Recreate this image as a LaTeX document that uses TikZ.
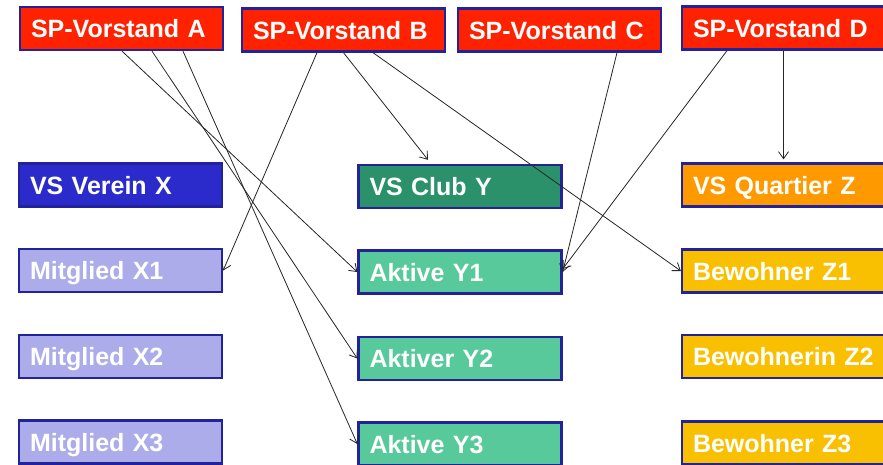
\documentclass[tikz,border=0pt]{standalone}
\usepackage{fontspec}
\setmainfont{Liberation Sans}
\usetikzlibrary{arrows.meta}
\definecolor{vred}{HTML}{FF2200}
\definecolor{vborder}{HTML}{22229A}
\definecolor{xdark}{HTML}{2B2BCC}
\definecolor{xlight}{HTML}{ACACEA}
\definecolor{ydark}{HTML}{2A916A}
\definecolor{ylight}{HTML}{58C99A}
\definecolor{zdark}{HTML}{FF9900}
\definecolor{zlight}{HTML}{F8C000}
\tikzset{
  box/.style={draw=vborder, line width=2.3pt, text=white,
    font=\fontsize{25}{30}\selectfont\bfseries,
    minimum height=43pt, text width=181pt, inner xsep=11pt, inner ysep=0pt,
    text height=18pt, text depth=0pt, align=left},
  rel/.style={draw=black!85, line width=0.8pt, -{Straight Barb[length=7pt,width=10pt]}}
}
\begin{document}
\begin{tikzpicture}[x=1pt,y=-1pt]
\clip (0,0) rectangle (883,464);
\fill[white] (0,0) rectangle (883,464);
% top row
\node[box, fill=vred] (A) at (121.5,28.5) {SP-Vorstand A};
\node[box, fill=vred] (B) at (343.5,30) {SP-Vorstand B};
\node[box, fill=vred] (C) at (559.5,30) {SP-Vorstand C};
\node[box, fill=vred] (D) at (783.5,28) {SP-Vorstand D};
% column X
\node[box, fill=xdark]  (VX) at (120.5,185) {VS Verein X};
\node[box, fill=xlight] (X1) at (120.5,270.5) {Mitglied X1};
\node[box, fill=xlight] (X2) at (120.5,356.5) {Mitglied X2};
\node[box, fill=xlight] (X3) at (120.5,442) {Mitglied X3};
% column Y
\node[box, fill=ydark]  (VY) at (460,186.5) {VS Club Y};
\node[box, fill=ylight] (Y1) at (460,272) {Aktive Y1};
\node[box, fill=ylight] (Y2) at (460,358.5) {Aktiver Y2};
\node[box, fill=ylight] (Y3) at (460,444) {Aktive Y3};
% column Z
\node[box, fill=zdark]  (VZ) at (783.5,185) {VS Quartier Z};
\node[box, fill=zlight] (Z1) at (783.5,271) {Bewohner Z1};
\node[box, fill=zlight] (Z2) at (783.5,356.5) {Bewohnerin Z2};
\node[box, fill=zlight] (Z3) at (783.5,443) {Bewohner Z3};
% connectors
\draw[rel] ([xshift=0.5pt]A.south) -- (Y1.west);
\draw[rel] ([xshift=30.5pt]A.south) -- (Y2.west);
\draw[rel] ([xshift=61.5pt]A.south) -- (Y3.west);
\draw[rel] ([xshift=-26.5pt]B.south) -- (X1.east);
\draw[rel] (B.south) -- ([xshift=-32pt,yshift=4pt]VY.north);
\draw[rel] ([xshift=29.5pt]B.south) -- (Z1.west);
\draw[rel] ([xshift=57.5pt]C.south) -- (Y1.east);
\draw[rel] ([xshift=-56.5pt]D.south) -- ([yshift=3pt]Y1.east);
\draw[rel] (D.south) -- ([yshift=3pt]VZ.north);
\end{tikzpicture}
\end{document}
